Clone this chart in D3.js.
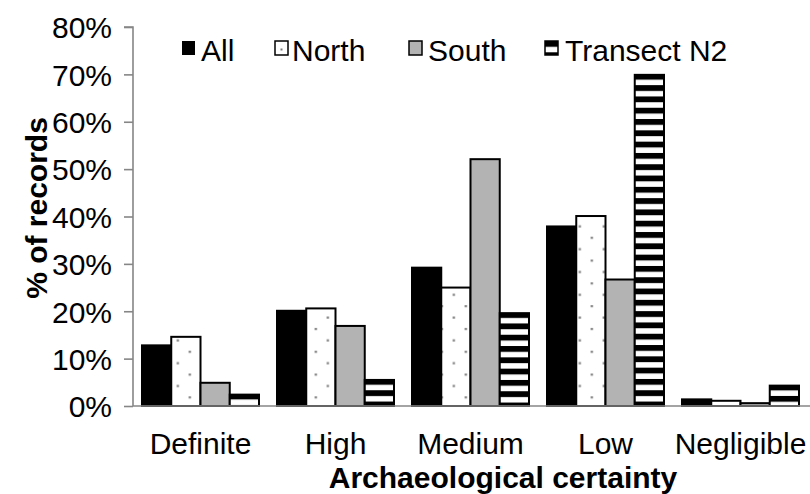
<!DOCTYPE html>
<html>
<head>
<meta charset="utf-8">
<script src="https://cdn.jsdelivr.net/npm/d3@7/dist/d3.min.js"></script>
<style>
  html, body { margin: 0; padding: 0; background: #fff; }
  svg { display: block; font-family: "Liberation Sans", Arial, sans-serif; }
</style>
</head>
<body>
<svg id="chart" width="810" height="494"></svg>
<script>
// Share of records per archaeological-certainty class (%)
const categories = ["Definite", "High", "Medium", "Low", "Negligible"];
const seriesNames = ["All", "North", "South", "Transect N2"];
const allValues      = [12.8, 20.1, 29.2, 37.9, 1.4];
const northValues    = [14.6, 20.6, 25.0, 40.1, 1.1];
const southValues    = [4.9, 16.9, 52.1, 26.7, 0.6];
const transectValues = [2.4, 5.5, 19.6, 69.9, 4.3];
const yTicks = [0, 10, 20, 30, 40, 50, 60, 70, 80];

const seriesValues = [allValues, northValues, southValues, transectValues];

const svg = d3.select("#chart");
const defs = svg.append("defs");

const plotLeft = 133, plotRight = 808, plotTop = 27, plotBottom = 406;
const axisGrey = "#868686";

const x0 = d3.scaleBand().domain(categories).range([plotLeft, plotRight])
  .paddingInner(18 / 135).paddingOuter(9 / 135);
const x1 = d3.scaleBand().domain(seriesNames).range([0, x0.bandwidth()]);
const y = d3.scaleLinear().domain([0, 80]).range([plotBottom, plotTop]);

// Dotted fill (North): staggered grey dots, rows anchored on the baseline
function dotPattern(id, xOrigin) {
  const p = defs.append("pattern").attr("id", id)
    .attr("patternUnits", "userSpaceOnUse")
    .attr("x", xOrigin).attr("y", 396.3)
    .attr("width", 24).attr("height", 22.8);
  p.append("rect").attr("width", 24).attr("height", 22.8).attr("fill", "#fff");
  p.append("rect").attr("x", 19.5).attr("y", 0).attr("width", 2.2).attr("height", 2.2).attr("fill", "#7a7a7a");
  p.append("rect").attr("x", 7.5).attr("y", 11.4).attr("width", 2.2).attr("height", 2.2).attr("fill", "#7a7a7a");
}
// Horizontal stripes (Transect N2), starting with black at the top edge
function stripePattern(id, yOrigin) {
  const p = defs.append("pattern").attr("id", id)
    .attr("patternUnits", "userSpaceOnUse")
    .attr("x", 0).attr("y", yOrigin)
    .attr("width", 10).attr("height", 11.3);
  p.append("rect").attr("width", 10).attr("height", 11.3).attr("fill", "#fff");
  p.append("rect").attr("width", 10).attr("height", 5.8).attr("fill", "#000");
}

// Bars
const groups = svg.append("g").selectAll("g")
  .data(categories).join("g")
  .attr("transform", d => `translate(${x0(d)},0)`);

groups.each(function (cat, ci) {
  const g = d3.select(this);
  seriesNames.forEach((s, si) => {
    const v = seriesValues[si][ci];
    const bx = x0(cat) + x1(s);
    const by = y(v);
    let fill;
    if (si === 0) fill = "#000";
    else if (si === 1) { dotPattern(`dots-${ci}`, bx); fill = `url(#dots-${ci})`; }
    else if (si === 2) fill = "#b3b3b3";
    else { stripePattern(`stripes-${ci}`, by - 1); fill = `url(#stripes-${ci})`; }
    g.append("rect")
      .attr("x", x1(s)).attr("y", by)
      .attr("width", x1.bandwidth()).attr("height", y(0) - by)
      .attr("fill", fill)
      .attr("stroke", "#000").attr("stroke-width", 2);
  });
});

// Y axis
const yAxis = d3.axisLeft(y).tickValues(yTicks).tickSize(9).tickFormat(d => d + "%");
const gy = svg.append("g").attr("transform", `translate(${plotLeft},0)`).call(yAxis);
gy.select(".domain").attr("stroke", axisGrey).attr("stroke-width", 1.6)
  .attr("d", `M-9,${plotTop}H0V${plotBottom}`);
gy.selectAll(".tick line").attr("stroke", axisGrey).attr("stroke-width", 1.6);
gy.selectAll(".tick text").attr("font-size", 30).attr("fill", "#000")
  .attr("font-family", "Liberation Sans, Arial, sans-serif")
  .attr("x", -21).attr("dy", "0.36em");

// X axis
const xAxis = d3.axisBottom(x0).tickSize(0).tickPadding(0);
const gx = svg.append("g").attr("transform", `translate(0,${plotBottom})`).call(xAxis);
gx.select(".domain").attr("stroke", axisGrey).attr("stroke-width", 1.6)
  .attr("d", `M${plotLeft},0H810`);
gx.selectAll(".tick text").attr("font-size", 30).attr("fill", "#000")
  .attr("font-family", "Liberation Sans, Arial, sans-serif")
  .attr("y", 48).attr("dy", 0);

// Axis titles
svg.append("text").attr("x", 503).attr("y", 488)
  .attr("text-anchor", "middle").attr("font-size", 30).attr("font-weight", "bold")
  .text("Archaeological certainty");
svg.append("text").attr("transform", "translate(47,208) rotate(-90)")
  .attr("text-anchor", "middle").attr("font-size", 30).attr("font-weight", "bold")
  .text("% of records");

// Legend
const legendSwatchX = [182, 275, 409, 545];
const legendTextX = [201, 292, 428, 565];
const legend = svg.append("g");
seriesNames.forEach((s, i) => {
  const lx = legendSwatchX[i], ly = 41;
  let fill;
  if (i === 0) fill = "#000";
  else if (i === 1) fill = "#fff";
  else if (i === 2) fill = "#b3b3b3";
  else { stripePattern("stripes-legend", ly); fill = "url(#stripes-legend)"; }
  legend.append("rect").attr("x", lx).attr("y", ly).attr("width", 13).attr("height", 14)
    .attr("fill", fill).attr("stroke", "#000").attr("stroke-width", i === 0 ? 0 : 1.5);
  if (i === 1) {
    legend.append("rect").attr("x", lx + 5.5).attr("y", ly + 7.5).attr("width", 2).attr("height", 2).attr("fill", "#7a7a7a");
  }
  legend.append("text").attr("x", legendTextX[i]).attr("y", 61)
    .attr("font-size", 30).attr("fill", "#000").text(s);
});
</script>
</body>
</html>
